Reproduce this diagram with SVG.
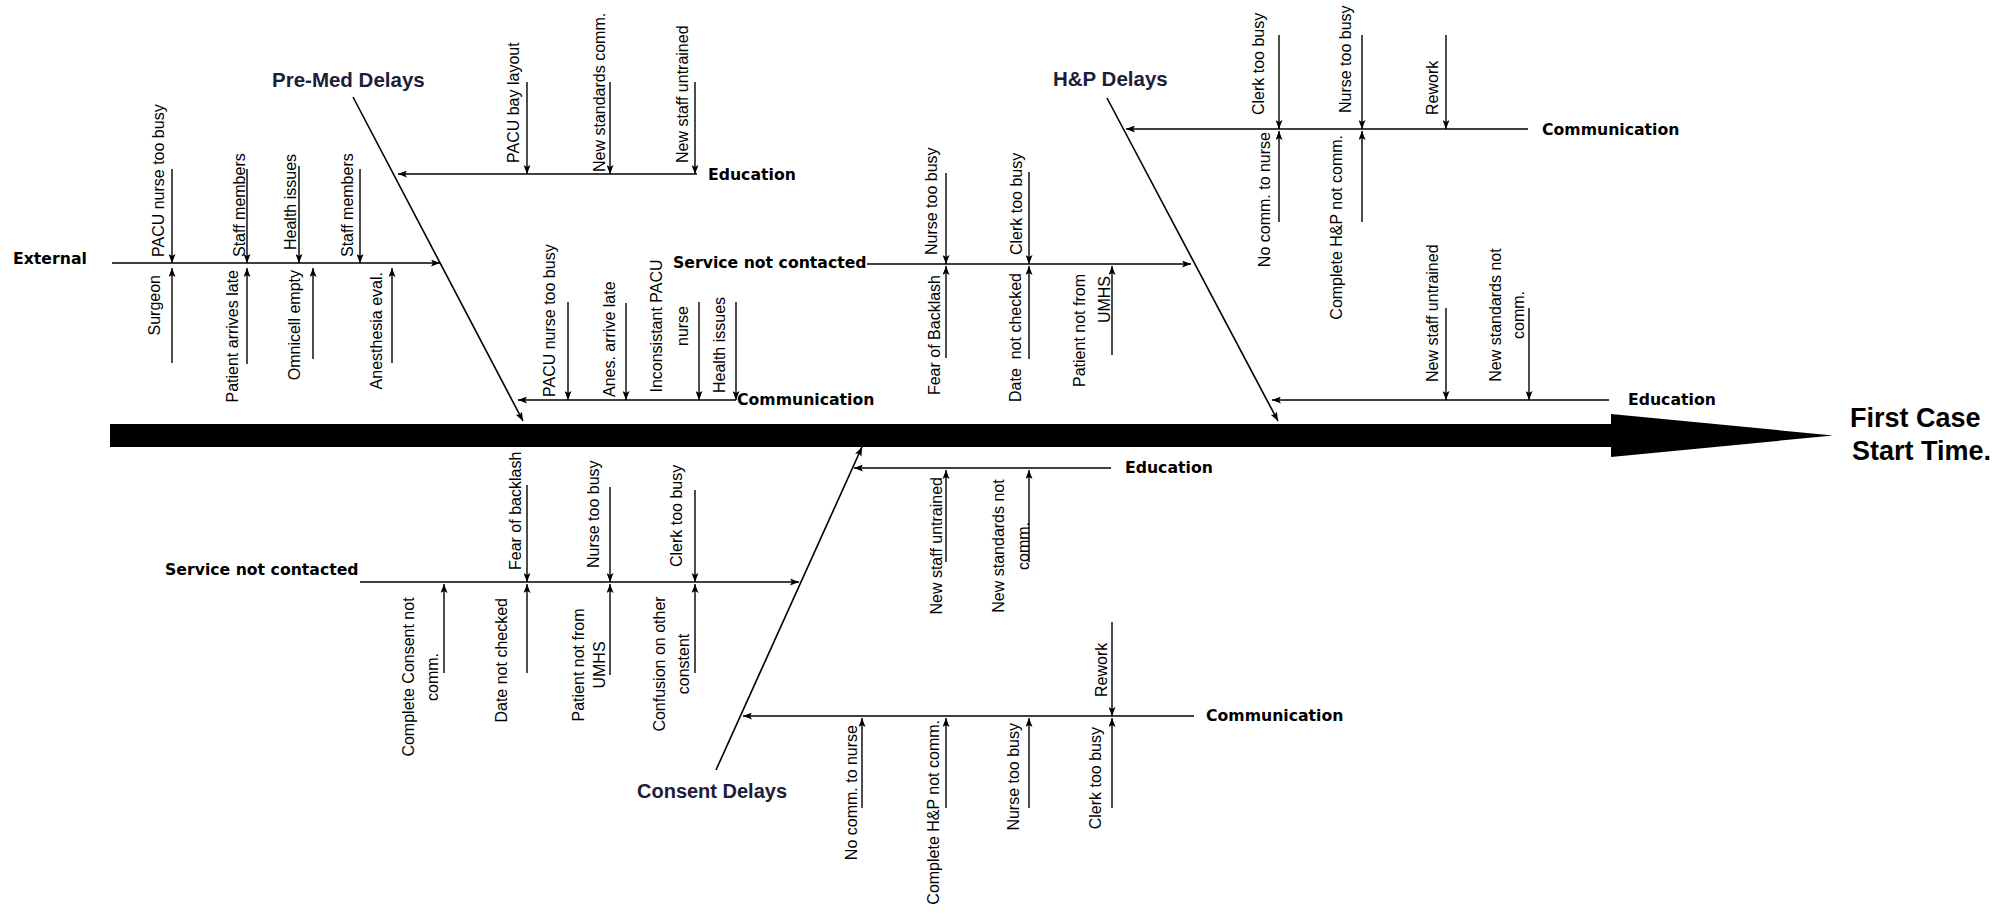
<svg xmlns="http://www.w3.org/2000/svg" width="2000" height="917" viewBox="0 0 2000 917">
<style>
.l{stroke:#000;stroke-width:1.4;fill:none;marker-end:url(#ah)}
.d{stroke:#000;stroke-width:1.6;fill:none;marker-end:url(#ah)}
.s{font-family:"Liberation Sans",Arial,sans-serif;font-size:16px;fill:#000}
.e{text-anchor:end}
.m{text-anchor:middle}
.c{font-family:"DejaVu Sans",Verdana,sans-serif;font-weight:bold;font-size:15.7px;fill:#000}
.t{font-family:"Liberation Sans",Arial,sans-serif;font-weight:bold;font-size:20.5px;fill:#1b2038}
.big{font-family:"Liberation Sans",Arial,sans-serif;font-weight:bold;font-size:27px;fill:#000}
</style>
<defs>
<marker id="ah" viewBox="0 0 9 7" refX="9" refY="3.5" markerWidth="9" markerHeight="7" orient="auto" markerUnits="userSpaceOnUse">
<path d="M0,0 L9,3.5 L0,7 L2,3.5 z" fill="#000"/>
</marker>
</defs>
<rect width="2000" height="917" fill="#fff"/>

<g id="spine">
<rect x="110" y="424" width="1504" height="23" fill="#000"/>
<polygon points="1611,414 1833,435.5 1611,457" fill="#000"/>
</g>

<g id="connectors">
<path class="d" d="M353,97 L523,421"/>
<path class="d" d="M1107,98 L1278,421"/>
<path class="d" d="M716,770 L862,447"/>
<path class="l" d="M112,263 L440,263"/>
<path class="l" d="M697,174 L398,174"/>
<path class="l" d="M736,400 L518,400"/>
<path class="l" d="M867,264 L1191,264"/>
<path class="l" d="M1528,129 L1126,129"/>
<path class="l" d="M1609,400 L1272,400"/>
<path class="l" d="M360,582 L799,582"/>
<path class="l" d="M1111,468 L854,468"/>
<path class="l" d="M1194,716 L743,716"/>
<path class="l" d="M172,169 L172,263"/>
<path class="l" d="M247,169 L247,263"/>
<path class="l" d="M299,166 L299,263"/>
<path class="l" d="M360,169 L360,263"/>
<path class="l" d="M172,363 L172,268"/>
<path class="l" d="M247,364 L247,268"/>
<path class="l" d="M313,359 L313,268"/>
<path class="l" d="M392,363 L392,268"/>
<path class="l" d="M527,82 L527,174"/>
<path class="l" d="M610,82 L610,174"/>
<path class="l" d="M695,82 L695,174"/>
<path class="l" d="M568,302 L568,400"/>
<path class="l" d="M626,303 L626,400"/>
<path class="l" d="M699,302 L699,400"/>
<path class="l" d="M736,302 L736,400"/>
<path class="l" d="M946,173 L946,264"/>
<path class="l" d="M1029,172 L1029,264"/>
<path class="l" d="M946,358 L946,266"/>
<path class="l" d="M1029,359 L1029,266"/>
<path class="l" d="M1112,355 L1112,266"/>
<path class="l" d="M1279,35 L1279,129"/>
<path class="l" d="M1362,35 L1362,129"/>
<path class="l" d="M1446,35 L1446,129"/>
<path class="l" d="M1279,222 L1279,131"/>
<path class="l" d="M1362,222 L1362,131"/>
<path class="l" d="M1446,308 L1446,400"/>
<path class="l" d="M1529,308 L1529,400"/>
<path class="l" d="M527,485 L527,582"/>
<path class="l" d="M610,487 L610,582"/>
<path class="l" d="M695,490 L695,582"/>
<path class="l" d="M444,673 L444,584"/>
<path class="l" d="M527,673 L527,584"/>
<path class="l" d="M610,675 L610,584"/>
<path class="l" d="M695,673 L695,584"/>
<path class="l" d="M946,562 L946,470"/>
<path class="l" d="M1029,562 L1029,470"/>
<path class="l" d="M1112,622 L1112,716"/>
<path class="l" d="M862,808 L862,718"/>
<path class="l" d="M946,808 L946,718"/>
<path class="l" d="M1029,808 L1029,718"/>
<path class="l" d="M1112,808 L1112,718"/>
</g>

<g id="effect"><text class="big" x="1850" y="427">First Case</text><text class="big" x="1852" y="460">Start Time.</text></g>

<g id="premed-delays"><text class="t" x="272" y="87">Pre-Med Delays</text></g>
<g id="hp-delays"><text class="t" x="1053" y="86">H&amp;P Delays</text></g>
<g id="consent-delays"><text class="t" x="637" y="798" style="font-size:20px">Consent Delays</text></g>

<g id="pm-external"><text class="c" x="13" y="264">External</text></g>
<g id="pm-ext-1"><text class="s" transform="translate(164,257) rotate(-90)">PACU nurse too busy</text></g>
<g id="pm-ext-2"><text class="s" transform="translate(245,257) rotate(-90)">Staff members</text></g>
<g id="pm-ext-3"><text class="s" transform="translate(296,250) rotate(-90)">Health issues</text></g>
<g id="pm-ext-4"><text class="s" transform="translate(353,257) rotate(-90)">Staff members</text></g>
<g id="pm-ext-5"><text class="s e" transform="translate(160,275) rotate(-90)">Surgeon</text></g>
<g id="pm-ext-6"><text class="s e" transform="translate(238,270) rotate(-90)">Patient arrives late</text></g>
<g id="pm-ext-7"><text class="s e" transform="translate(300,270) rotate(-90)">Omnicell empty</text></g>
<g id="pm-ext-8"><text class="s e" transform="translate(382,272) rotate(-90)">Anesthesia eval.</text></g>

<g id="pm-education"><text class="c" x="708" y="180">Education</text></g>
<g id="pm-edu-1"><text class="s" transform="translate(519,163) rotate(-90)">PACU bay layout</text></g>
<g id="pm-edu-2"><text class="s" transform="translate(605,172) rotate(-90)">New standards comm.</text></g>
<g id="pm-edu-3"><text class="s" transform="translate(688,163) rotate(-90)">New staff untrained</text></g>

<g id="pm-communication"><text class="c" x="737" y="405">Communication</text></g>
<g id="pm-com-1"><text class="s" transform="translate(555,397) rotate(-90)">PACU nurse too busy</text></g>
<g id="pm-com-2"><text class="s" transform="translate(615,397) rotate(-90)">Anes. arrive late</text></g>
<g id="pm-com-3"><text class="s m" transform="translate(662,326) rotate(-90)">Inconsistant PACU</text><text class="s m" transform="translate(688,326) rotate(-90)">nurse</text></g>
<g id="pm-com-4"><text class="s" transform="translate(725,393) rotate(-90)">Health issues</text></g>

<g id="hp-service"><text class="c" x="673" y="268">Service not contacted</text></g>
<g id="hp-svc-1"><text class="s" transform="translate(937,255) rotate(-90)">Nurse too busy</text></g>
<g id="hp-svc-2"><text class="s" transform="translate(1022,255) rotate(-90)">Clerk too busy</text></g>
<g id="hp-svc-3"><text class="s e" transform="translate(940,275) rotate(-90)">Fear of Backlash</text></g>
<g id="hp-svc-4"><text class="s e" transform="translate(1021,273) rotate(-90)" xml:space="preserve">Date  not checked</text></g>
<g id="hp-svc-5"><text class="s e" transform="translate(1085,274) rotate(-90)">Patient not from</text><text class="s e" transform="translate(1110,276) rotate(-90)">UMHS</text></g>

<g id="hp-communication"><text class="c" x="1542" y="135">Communication</text></g>
<g id="hp-com-1"><text class="s" transform="translate(1264,115) rotate(-90)">Clerk too busy</text></g>
<g id="hp-com-2"><text class="s" transform="translate(1351,113) rotate(-90)">Nurse too busy</text></g>
<g id="hp-com-3"><text class="s" transform="translate(1438,115) rotate(-90)">Rework</text></g>
<g id="hp-com-4"><text class="s e" transform="translate(1270,132) rotate(-90)">No comm. to nurse</text></g>
<g id="hp-com-5"><text class="s e" transform="translate(1342,135) rotate(-90)">Complete H&amp;P not comm.</text></g>

<g id="hp-education"><text class="c" x="1628" y="405">Education</text></g>
<g id="hp-edu-1"><text class="s" transform="translate(1438,382) rotate(-90)">New staff untrained</text></g>
<g id="hp-edu-2"><text class="s m" transform="translate(1501,315) rotate(-90)">New standards not</text><text class="s m" transform="translate(1524,315) rotate(-90)">comm.</text></g>

<g id="c-service"><text class="c" x="165" y="575">Service not contacted</text></g>
<g id="c-svc-1"><text class="s" transform="translate(521,570) rotate(-90)">Fear of backlash</text></g>
<g id="c-svc-2"><text class="s" transform="translate(599,568) rotate(-90)">Nurse too busy</text></g>
<g id="c-svc-3"><text class="s" transform="translate(682,567) rotate(-90)">Clerk too busy</text></g>
<g id="c-svc-4"><text class="s m" transform="translate(414,677) rotate(-90)">Complete Consent not</text><text class="s m" transform="translate(438,677) rotate(-90)">comm.</text></g>
<g id="c-svc-5"><text class="s e" transform="translate(507,598) rotate(-90)">Date not checked</text></g>
<g id="c-svc-6"><text class="s m" transform="translate(584,665) rotate(-90)">Patient not from</text><text class="s m" transform="translate(605,665) rotate(-90)">UMHS</text></g>
<g id="c-svc-7"><text class="s m" transform="translate(665,664) rotate(-90)">Confusion on other</text><text class="s m" transform="translate(689,664) rotate(-90)">constent</text></g>

<g id="c-education"><text class="c" x="1125" y="473">Education</text></g>
<g id="c-edu-1"><text class="s e" transform="translate(942,477) rotate(-90)">New staff untrained</text></g>
<g id="c-edu-2"><text class="s m" transform="translate(1004,546) rotate(-90)">New standards not</text><text class="s m" transform="translate(1029,546) rotate(-90)">comm.</text></g>

<g id="c-communication"><text class="c" x="1206" y="721">Communication</text></g>
<g id="c-com-1"><text class="s" transform="translate(1107,697) rotate(-90)">Rework</text></g>
<g id="c-com-2"><text class="s e" transform="translate(857,725) rotate(-90)">No comm. to nurse</text></g>
<g id="c-com-3"><text class="s e" transform="translate(939,720) rotate(-90)">Complete H&amp;P not comm.</text></g>
<g id="c-com-4"><text class="s e" transform="translate(1019,723) rotate(-90)">Nurse too busy</text></g>
<g id="c-com-5"><text class="s e" transform="translate(1101,727) rotate(-90)">Clerk too busy</text></g>
</svg>
